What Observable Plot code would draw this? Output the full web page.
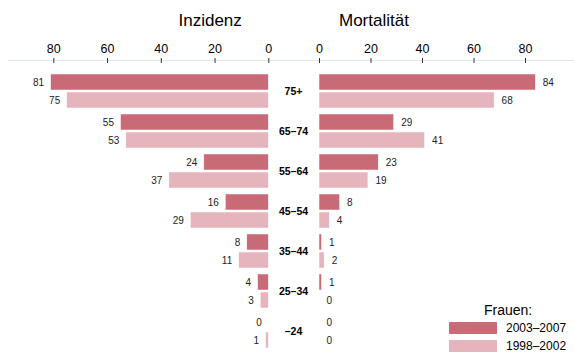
<!DOCTYPE html>
<html><head><meta charset="utf-8">
<script src="https://cdn.jsdelivr.net/npm/d3@7"></script>
<script src="https://cdn.jsdelivr.net/npm/@observablehq/plot@0.6"></script>
<style>
body{margin:0;background:#fff;font-family:"Liberation Sans",Arial,sans-serif;}
#wrap{position:relative;width:574px;height:354px;overflow:hidden;background:#fff;}
#wrap svg{position:absolute;left:0;top:0;}
.t{position:absolute;white-space:nowrap;line-height:1;color:#000;}
.sw{position:absolute;width:48px;}
</style></head><body><div id="wrap"></div>
<script>
const ages = ["75+","65–74","55–64","45–54","35–44","25–34","–24"];
const periods = ["2003–2007","1998–2002"];
const colors = ["#c96a77","#e6b4bc"];
const inzidenz2003 = [81,55,24,16,8,4,0];
const inzidenz1998 = [75,53,37,29,11,3,1];
const mortalitaet2003 = [84,29,23,8,1,1,0];
const mortalitaet1998 = [68,41,19,4,2,0,0];
const tickValues = [0,20,40,60,80];
const panelTitles = ["Inzidenz","Mortalität"];
const legendTitle = "Frauen:";

const rows = vals => ages.map((age,i)=>({age, v: vals[i]}));
const FONT = "Liberation Sans, Arial, sans-serif";

function panel({d03, d98, range, mLeft, mRight, side}) {
  const left = side === "left";
  const marks = [
    Plot.frame({anchor:"top", stroke:"#dfe9ea", strokeOpacity:1, dy:-2}),
    Plot.axisX({anchor:"top", ticks: tickValues, tickSize:5, tickPadding:5, label:null, fontSize:12.5, stroke:"#333"}),
    Plot.barX(rows(d03), {x:"v", y:"age", fill:colors[0], insetBottom:18, stroke:"white", strokeWidth:0.5}),
    Plot.barX(rows(d98), {x:"v", y:"age", fill:colors[1], insetTop:18, stroke:"white", strokeWidth:0.5}),
    Plot.text(rows(d03), {x:"v", y:"age", text:d=>String(d.v), dy:-9, dx:left?-7:7, textAnchor:left?"end":"start", fontSize:10, fill:"#222"}),
    Plot.text(rows(d98), {x:"v", y:"age", text:d=>String(d.v), dy:9, dx:left?-7:7, textAnchor:left?"end":"start", fontSize:10, fill:"#222"})
  ];
  if (!left) marks.push(Plot.text(ages, {x:0, y:d=>d, text:d=>d, dx:-26, fontWeight:"bold", fontSize:10.5, fill:"#000"}));
  return Plot.plot({
    width:574, height:354, marginLeft:mLeft, marginRight:mRight, marginTop:62, marginBottom:0,
    style:{fontFamily:FONT, background:"transparent", color:"#000", overflow:"visible"},
    x:{domain:[0,80], range, label:null},
    y:{domain:ages, range:[73,349], paddingInner:0.156, paddingOuter:0, axis:null},
    marks
  });
}

const wrap = document.getElementById("wrap");
wrap.appendChild(panel({d03:inzidenz2003, d98:inzidenz1998, range:[268.3,53.3], mLeft:8, mRight:280, side:"left"}));
wrap.appendChild(panel({d03:mortalitaet2003, d98:mortalitaet1998, range:[319,525], mLeft:294, mRight:0, side:"right"}));

function addText(txt, css) {
  const el = document.createElement("div");
  el.className = "t"; el.textContent = txt;
  Object.assign(el.style, css);
  wrap.appendChild(el);
  return el;
}
// panel titles
const t1 = addText(panelTitles[0], {fontSize:"17px", top:"12px"});
t1.style.left = (210 - t1.offsetWidth/2) + "px";
const t2 = addText(panelTitles[1], {fontSize:"17px", top:"12px"});
t2.style.left = (374 - t2.offsetWidth/2) + "px";
// legend
const lt = addText(legendTitle, {fontSize:"14px", top:"303px"});
lt.style.left = (508 - lt.offsetWidth/2) + "px";
periods.forEach((p,i)=>{
  const sw = document.createElement("div");
  sw.className = "sw";
  Object.assign(sw.style, {left:"449px", top:(322 + i*18)+"px", height:"12px", background:colors[i]});
  wrap.appendChild(sw);
  addText(p, {fontSize:"12px", left:"506px", top:(322 + i*18)+"px"});
});
</script></body></html>
